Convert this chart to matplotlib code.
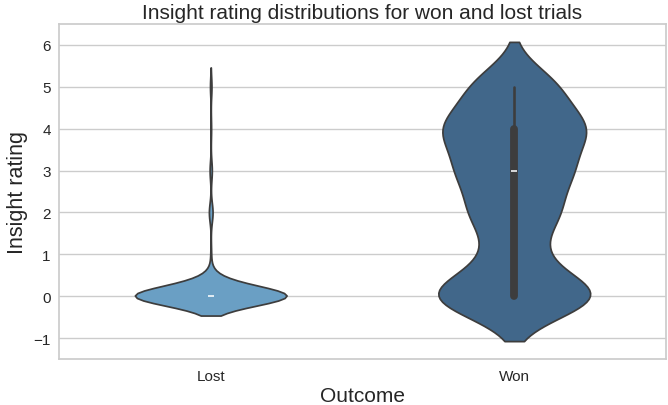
import numpy as np
import pandas as pd
import matplotlib
matplotlib.use("Agg")
import matplotlib.pyplot as plt
import seaborn as sns

# estimated number of trials per insight rating, read off the violin shapes
lost_ratings = [0, 0.33, 1, 2, 3, 4, 5]
lost_counts = [200, 20, 1, 5, 3, 1, 2]

won_ratings = [0, 1, 2, 3, 4, 5]
won_counts = [119, 32, 58, 73, 95, 58]

outcomes = ["Lost", "Won"]
colors = ["#6a9fc4", "#41678a"]

lost_vals = np.repeat(lost_ratings, lost_counts)
won_vals = np.repeat(won_ratings, won_counts)

df = pd.DataFrame({
    "Outcome": ["Lost"] * len(lost_vals) + ["Won"] * len(won_vals),
    "Insight rating": np.concatenate([lost_vals, won_vals]),
})

sns.set_theme(style="whitegrid")
plt.rcParams["font.family"] = ["Liberation Sans", "DejaVu Sans"]

fig = plt.figure(figsize=(6.68, 4.06), dpi=100)
ax = fig.add_axes([0.0883, 0.1133, 0.9087, 0.8251])

sns.violinplot(data=df, x="Outcome", y="Insight rating", hue="Outcome",
               order=outcomes, hue_order=outcomes, palette=colors,
               saturation=1, density_norm="width", width=0.5,
               inner="box", legend=False, ax=ax)

ax.set_ylim(-1.5, 6.5)
ax.set_xlim(-0.5, 1.5)
ax.set_yticks(range(-1, 7))
ax.tick_params(axis="x", labelsize=11, pad=1)
ax.tick_params(axis="y", labelsize=11, pad=0)
ax.set_xlabel("Outcome", fontsize=15, labelpad=2)
ax.set_ylabel("Insight rating", fontsize=15.5, labelpad=4)
ax.set_title("Insight rating distributions for won and lost trials", fontsize=15, pad=4)

fig.savefig("out.png", dpi=100)
